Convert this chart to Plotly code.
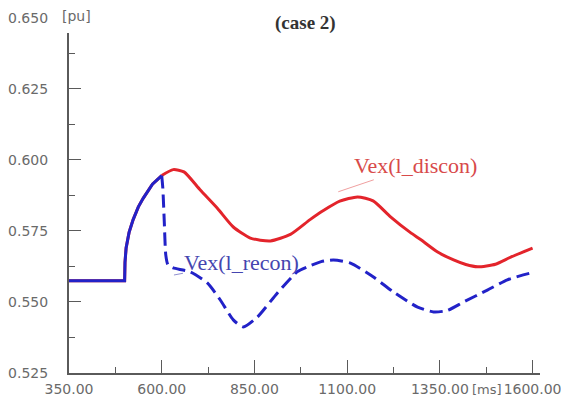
import plotly.graph_objects as go

# ---- data (time in ms, voltage in pu) ----
t_discon = [350, 500, 501, 504, 512, 523, 537, 550, 575, 600, 631, 660, 704, 750, 793, 839,
            893, 947, 1000, 1036, 1080, 1128, 1170, 1217, 1270, 1298, 1344, 1387, 1420,
            1452, 1500, 1541, 1600]
v_discon = [0.5575, 0.5575, 0.5640, 0.5690, 0.5745, 0.5790, 0.5835, 0.5865, 0.5915, 0.5945,
            0.5966, 0.5958, 0.5894, 0.5830, 0.5764, 0.5725, 0.5715, 0.5738, 0.5790, 0.5822,
            0.5855, 0.5870, 0.5856, 0.5800, 0.5745, 0.5720, 0.5676, 0.5648, 0.5632, 0.5624,
            0.5633, 0.5658, 0.5690]

t_recon = [350, 500, 501, 504, 512, 523, 537, 550, 575, 600, 603, 607, 611, 617, 631, 677,
           723, 758, 793, 820, 858, 912, 966, 992, 1030, 1063, 1109, 1171, 1225, 1290, 1333,
           1370, 1414, 1478, 1532, 1595, 1600]
v_recon = [0.5575, 0.5575, 0.5640, 0.5690, 0.5745, 0.5790, 0.5835, 0.5865, 0.5915, 0.5945,
           0.5900, 0.5780, 0.5665, 0.5630, 0.5620, 0.5606, 0.5567, 0.5507, 0.5437, 0.5412,
           0.5447, 0.5532, 0.5607, 0.5623, 0.5642, 0.5648, 0.5637, 0.5588, 0.5535, 0.5482,
           0.5465, 0.5470, 0.5500, 0.5542, 0.5578, 0.5602, 0.5603]
split_t = 600  # common part (solid) until the reconnection

x_ticks_step = 250
y_ticks_step = 0.025

label_discon = "Vex(l_discon)"
label_recon = "Vex(l_recon)"
title_text = "(case 2)"

RED = "#e3242b"
BLUE = "#2222c8"
GRAY = "#5a5a5a"
TICKFONT = dict(family="DejaVu Sans", size=14, color="#6a6a6a")


def part(ts, vs, before):
    pts = [(t, v) for t, v in zip(ts, vs) if (t <= split_t if before else t >= split_t)]
    return [p[0] for p in pts], [p[1] for p in pts]


fig = go.Figure()
x0, y0 = part(t_discon, v_discon, True)
x1, y1 = part(t_discon, v_discon, False)
fig.add_trace(go.Scatter(x=x0, y=y0, mode="lines", line=dict(color=RED, width=3),
                         showlegend=False))
fig.add_trace(go.Scatter(x=x1, y=y1, mode="lines",
                         line=dict(color=RED, width=3, shape="spline", smoothing=0.6),
                         showlegend=False))
x0, y0 = part(t_recon, v_recon, True)
x1, y1 = part(t_recon, v_recon, False)
fig.add_trace(go.Scatter(x=x0, y=y0, mode="lines", line=dict(color=BLUE, width=3),
                         showlegend=False))
fig.add_trace(go.Scatter(x=x1, y=y1, mode="lines",
                         line=dict(color=BLUE, width=3, dash="13px,6px", shape="spline",
                                   smoothing=0.6),
                         showlegend=False))

fig.update_layout(
    width=561, height=403,
    margin=dict(l=69, r=21, t=33, b=30, autoexpand=False),
    paper_bgcolor="white", plot_bgcolor="white",
    xaxis=dict(range=[350, 1620], tickmode="linear", tick0=350, dtick=x_ticks_step,
               tickformat=".2f", ticks="inside", ticklen=13, tickwidth=1, tickcolor=GRAY,
               showline=True, linecolor=GRAY, linewidth=2, showgrid=False, zeroline=False,
               tickfont=TICKFONT, ticklabelstandoff=2, ticklabeloverflow="allow",
               automargin=False,
               minor=dict(ticks="inside", ticklen=6, tickcolor=GRAY, dtick=x_ticks_step / 2,
                          tick0=350, showgrid=False)),
    yaxis=dict(range=[0.525, 0.6447], tickmode="linear", tick0=0.525, dtick=y_ticks_step,
               tickformat=".3f", ticks="inside", ticklen=12, tickwidth=1, tickcolor=GRAY,
               showline=True, linecolor=GRAY, linewidth=2, showgrid=False, zeroline=False,
               tickfont=TICKFONT, ticklabelstandoff=16, automargin=False,
               minor=dict(ticks="inside", ticklen=6, tickcolor=GRAY, dtick=y_ticks_step / 2,
                          tick0=0.525, showgrid=False)),
)

# top y label and units
fig.add_annotation(text="0.650", xref="paper", yref="paper", x=0, y=1, xshift=-19, yshift=15,
                   xanchor="right", yanchor="middle", showarrow=False, font=TICKFONT)
fig.add_annotation(text="[pu]", xref="paper", yref="paper", x=0, y=1, xshift=-9, yshift=17,
                   xanchor="left", yanchor="middle", showarrow=False, font=TICKFONT)
fig.add_annotation(text="[ms]", xref="paper", yref="paper", x=(487 - 69) / 471, y=0,
                   yshift=-16, xanchor="center", yanchor="middle", showarrow=False,
                   font=dict(family="DejaVu Sans", size=13, color="#6a6a6a"))
# title
fig.add_annotation(text="<b>" + title_text + "</b>", xref="paper", yref="paper",
                   x=(305 - 69) / 471, y=1, yshift=10, xanchor="center", yanchor="middle",
                   showarrow=False, font=dict(family="Liberation Serif", size=19, color="#333"))
# curve labels with leader lines
fig.add_annotation(text=label_discon, x=1076, y=0.5888, ax=77, ay=-26,
                   showarrow=True, arrowhead=0, arrowwidth=1, arrowcolor="#f0a0a0",
                   font=dict(family="Liberation Serif", size=22, color="#d84a4a"))
fig.add_annotation(text=label_recon, x=633, y=0.5595, ax=68, ay=-13,
                   showarrow=True, arrowhead=0, arrowwidth=1, arrowcolor="#9090d0",
                   font=dict(family="Liberation Serif", size=22, color="#4545b0"))

fig.write_html("out.html")
